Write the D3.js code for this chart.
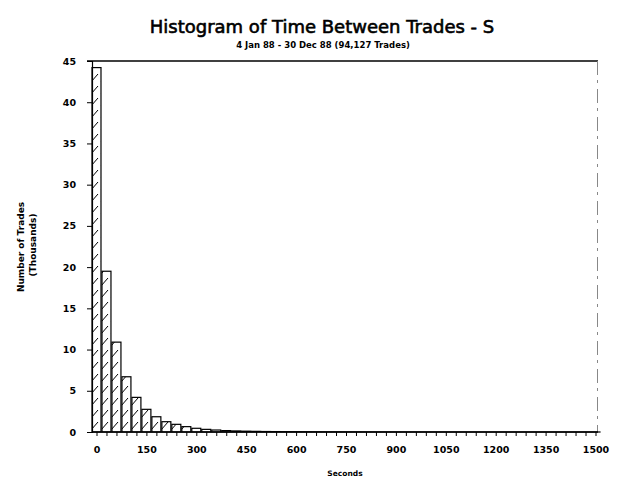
<!DOCTYPE html>
<html>
<head lang="en">
    <meta charset="UTF-8">
    <title>Histogram of Time Between Trades</title>
    <script type="text/javascript" src="https://cdn.jsdelivr.net/npm/d3@7"></script>
    <style>
        body { margin: 0; background: #fff; }
        text { font-family: "DejaVu Sans", sans-serif; fill: #000; }
    </style>
</head>
<body>
<svg id="mainSvg"></svg>
<script>
    // bin start (seconds), 30 second bins
    var bins = [];
    for (var b = 0; b <= 1500; b += 30) bins.push(b);
    // number of trades per bin, thousands
    var trades = [44.2, 19.5, 10.9, 6.7, 4.2, 2.75, 1.85, 1.25, 0.93, 0.65,
        0.45, 0.32, 0.24, 0.17, 0.13, 0.1, 0.08, 0.06, 0.05, 0.04,
        0.035, 0.03, 0.025, 0.02, 0.02, 0.015, 0.015, 0.012, 0.01, 0.01,
        0.01, 0.008, 0.008, 0.006, 0.006, 0.005, 0.005, 0.004, 0.004, 0.003,
        0.003, 0.003, 0.002, 0.002, 0.002, 0.002, 0.001, 0.001, 0.001, 0.001, 0.001];
    var xTicks = [0, 150, 300, 450, 600, 750, 900, 1050, 1200, 1350, 1500];
    var yTicks = [0, 5, 10, 15, 20, 25, 30, 35, 40, 45];

    var w = 623, h = 480;
    var svg = d3.select("#mainSvg").attr("width", w).attr("height", h);

    var x = d3.scaleLinear().domain([0, 1500]).range([96.5, 595.5]);
    var y = d3.scaleLinear().domain([0, 45]).range([432, 61]);
    var bw = x(30) - x(0);

    var defs = svg.append("defs");
    var pat = defs.append("pattern")
            .attr("id", "hatch")
            .attr("patternUnits", "userSpaceOnUse")
            .attr("width", 10)
            .attr("height", 12);
    pat.append("rect").attr("width", 10).attr("height", 12).attr("fill", "white");
    pat.append("path")
            .attr("d", "M1,10 L8,2")
            .attr("stroke", "black")
            .attr("stroke-width", 1);

    // frame top + right
    svg.append("line")
            .attr("x1", 87).attr("x2", 598)
            .attr("y1", y(45)).attr("y2", y(45))
            .attr("stroke", "black").attr("stroke-width", 1.5);
    svg.append("line")
            .attr("x1", 597.5).attr("x2", 597.5)
            .attr("y1", y(45)).attr("y2", y(0))
            .attr("stroke", "#888").attr("stroke-width", 1)
            .attr("stroke-dasharray", "14,5,3,6");

    svg.selectAll("rect.bar")
            .data(trades)
            .enter()
            .append("rect")
            .attr("class", "bar")
            .attr("x", function (d, i) {
                return x(bins[i]) - bw / 2 + 0.5;
            })
            .attr("y", function (d) {
                return y(d);
            })
            .attr("width", bw - 1)
            .attr("height", function (d) {
                return y(0) - y(d);
            })
            .attr("fill", "url(#hatch)")
            .attr("stroke", "black")
            .attr("stroke-width", 1.2);

    // x axis
    svg.append("g")
            .attr("transform", "translate(0," + y(0) + ")")
            .call(d3.axisBottom(x).tickValues(bins).tickSize(4).tickFormat(""))
            .call(function (g) {
                g.select(".domain").attr("d", "M" + (x(0) - 4.5) + ",0H598").attr("stroke-width", 1.5);
            });
    svg.append("g")
            .attr("transform", "translate(0," + y(0) + ")")
            .call(d3.axisBottom(x).tickValues(xTicks).tickSize(0).tickPadding(14).tickFormat(d3.format("d")))
            .call(function (g) {
                g.select(".domain").remove();
                g.selectAll("text")
                        .attr("font-family", "DejaVu Sans")
                        .attr("font-size", 9.5)
                        .attr("font-weight", "bold");
            });

    // y axis
    svg.append("g")
            .attr("transform", "translate(92,0)")
            .call(d3.axisLeft(y).tickValues(yTicks).tickSize(5).tickPadding(11))
            .call(function (g) {
                g.select(".domain").attr("stroke-width", 1.2);
                g.selectAll("text")
                        .attr("font-family", "DejaVu Sans")
                        .attr("font-size", 9.5)
                        .attr("font-weight", "bold");
            });

    svg.append("text")
            .attr("x", 322).attr("y", 33)
            .attr("text-anchor", "middle")
            .attr("font-size", 18)
            .attr("stroke", "black")
            .attr("stroke-width", 0.6)
            .text("Histogram of Time Between Trades - S");
    svg.append("text")
            .attr("x", 323).attr("y", 48)
            .attr("text-anchor", "middle")
            .attr("font-size", 8.5)
            .attr("font-weight", "bold")
            .text("4 Jan 88 - 30 Dec 88 (94,127 Trades)");

    svg.append("text")
            .attr("transform", "translate(24,247) rotate(-90)")
            .attr("text-anchor", "middle")
            .attr("font-size", 9)
            .attr("font-weight", "bold")
            .text("Number of Trades");
    svg.append("text")
            .attr("transform", "translate(36,245) rotate(-90)")
            .attr("text-anchor", "middle")
            .attr("font-size", 9)
            .attr("font-weight", "bold")
            .text("(Thousands)");
    svg.append("text")
            .attr("x", 345).attr("y", 476)
            .attr("text-anchor", "middle")
            .attr("font-size", 7.5)
            .attr("font-weight", "bold")
            .text("Seconds");
</script>
</body>
</html>
